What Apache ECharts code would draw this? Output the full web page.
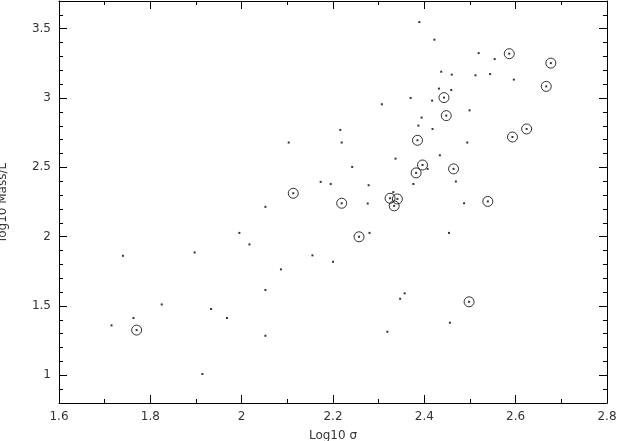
<!DOCTYPE html>
<html><head><meta charset="utf-8">
<script src="https://cdn.jsdelivr.net/npm/echarts@6/dist/echarts.min.js"></script>
<style>html,body{margin:0;padding:0;background:#fff}#c{width:619px;height:441px}</style>
</head><body><div id="c"></div>
<script>
// Plain dots: [log10 sigma, log10 Mass/L]
const dotX = [2.103,2.052,2.389,2.422,2.519,2.554,2.437,2.460,2.512,2.544,2.596,2.432,2.459,2.370,2.417,2.307,2.499,2.394,2.387,2.216,2.418,2.219,2.494,2.434,2.337,2.242,2.407,2.173,2.195,2.376,2.278,2.469,2.332,2.276,2.487,1.715,1.740,1.763,1.825,1.897,1.914,1.933,1.968,1.995,2.017,2.052,2.052,2.086,2.155,2.280,2.454,2.200,2.357,2.347,2.456,2.319];
const dotY = [2.679,2.215,3.548,3.421,3.324,3.281,3.190,3.169,3.164,3.173,3.133,3.068,3.058,3.000,2.981,2.955,2.911,2.859,2.801,2.770,2.777,2.679,2.679,2.587,2.563,2.503,2.489,2.395,2.380,2.380,2.371,2.398,2.321,2.239,2.241,1.360,1.862,1.413,1.511,1.886,1.009,1.478,1.413,2.027,1.944,1.615,1.285,1.764,1.865,2.027,2.027,1.819,1.591,1.552,1.379,1.314];
// Circled points
const circX = [2.113,2.586,2.677,2.667,2.443,2.448,2.624,2.593,2.385,2.396,2.464,2.382,2.325,2.341,2.334,2.219,2.539,1.770,2.257,2.498];
const circY = [2.313,3.320,3.252,3.084,3.003,2.873,2.777,2.719,2.695,2.517,2.489,2.460,2.277,2.272,2.222,2.241,2.254,1.326,1.999,1.530];
const xTicks = [1.6,1.8,2.0,2.2,2.4,2.6,2.8];
const yTicks = [1,1.5,2,2.5,3,3.5];

const dots = dotX.map((x,i)=>[x,dotY[i]]);
const circs = circX.map((x,i)=>[x,circY[i]]);
const fmt = v => (Math.round(v*10)/10).toString();
const font = 'DejaVu Sans';
const tc = '#333';
function xa(pos, show){
  return {type:'value', position:pos, min:1.6, max:2.8, interval:0.2,
    axisLine:{show:true, onZero:false, lineStyle:{color:'#000', width:1}},
    axisTick:{show:true, inside:true, length:8, lineStyle:{color:'#000'}},
    minorTick:{show:true, splitNumber:2, length:4, lineStyle:{color:'#000'}},
    splitLine:{show:false}, minorSplitLine:{show:false},
    axisLabel:{show:show, margin:8, color:tc, fontFamily:font, fontSize:12, formatter:fmt},
    name: show ? 'Log10 σ' : '', nameLocation:'middle', nameGap:27,
    nameTextStyle:{color:tc, fontFamily:font, fontSize:12}};
}
function ya(pos, show){
  return {type:'value', position:pos, min:0.8, max:3.7,
    axisLine:{show:true, onZero:false, lineStyle:{color:'#000', width:1}},
    axisTick:{show:true, inside:true, length:8, lineStyle:{color:'#000'}, customValues:yTicks},
    minorTick:{show:false},
    splitLine:{show:false}, minorSplitLine:{show:false},
    axisLabel:{show:show, margin:8, color:tc, fontFamily:font, fontSize:12, formatter:fmt, customValues:yTicks},
    name: show ? 'log10 Mass/L' : '', nameLocation:'middle', nameGap:50,
    nameTextStyle:{color:tc, fontFamily:font, fontSize:12}};
}
// minor y ticks every 0.1, drawn as an extra axis with short ticks
const yMinor = [];
for (let k = 9; k <= 36; k++) yMinor.push(k/10);
function yminor(pos){
  return {type:'value', position:pos, min:0.8, max:3.7,
    axisLine:{show:false}, splitLine:{show:false},
    axisTick:{show:true, inside:true, length:4, lineStyle:{color:'#000'}, customValues:yMinor},
    axisLabel:{show:false, customValues:yMinor}};
}
const chart = echarts.init(document.getElementById('c'));
chart.setOption({
  animation:false,
  backgroundColor:'#fff',
  grid:{left:59, right:12, top:1, bottom:38, containLabel:false, outerBoundsMode:'none'},
  xAxis:[xa('bottom', true), xa('top', false)],
  yAxis:[ya('left', true), ya('right', false), yminor('left'), yminor('right')],
  series:[
    {type:'scatter', data:dots, symbol:'rect', symbolSize:2, itemStyle:{color:'#000'}},
    {type:'scatter', data:circs, symbol:'circle', symbolSize:10,
      itemStyle:{color:'rgba(0,0,0,0)', borderColor:'#000', borderWidth:1}},
    {type:'scatter', data:circs, symbol:'rect', symbolSize:2, itemStyle:{color:'#000'}}
  ]
});
</script></body></html>
